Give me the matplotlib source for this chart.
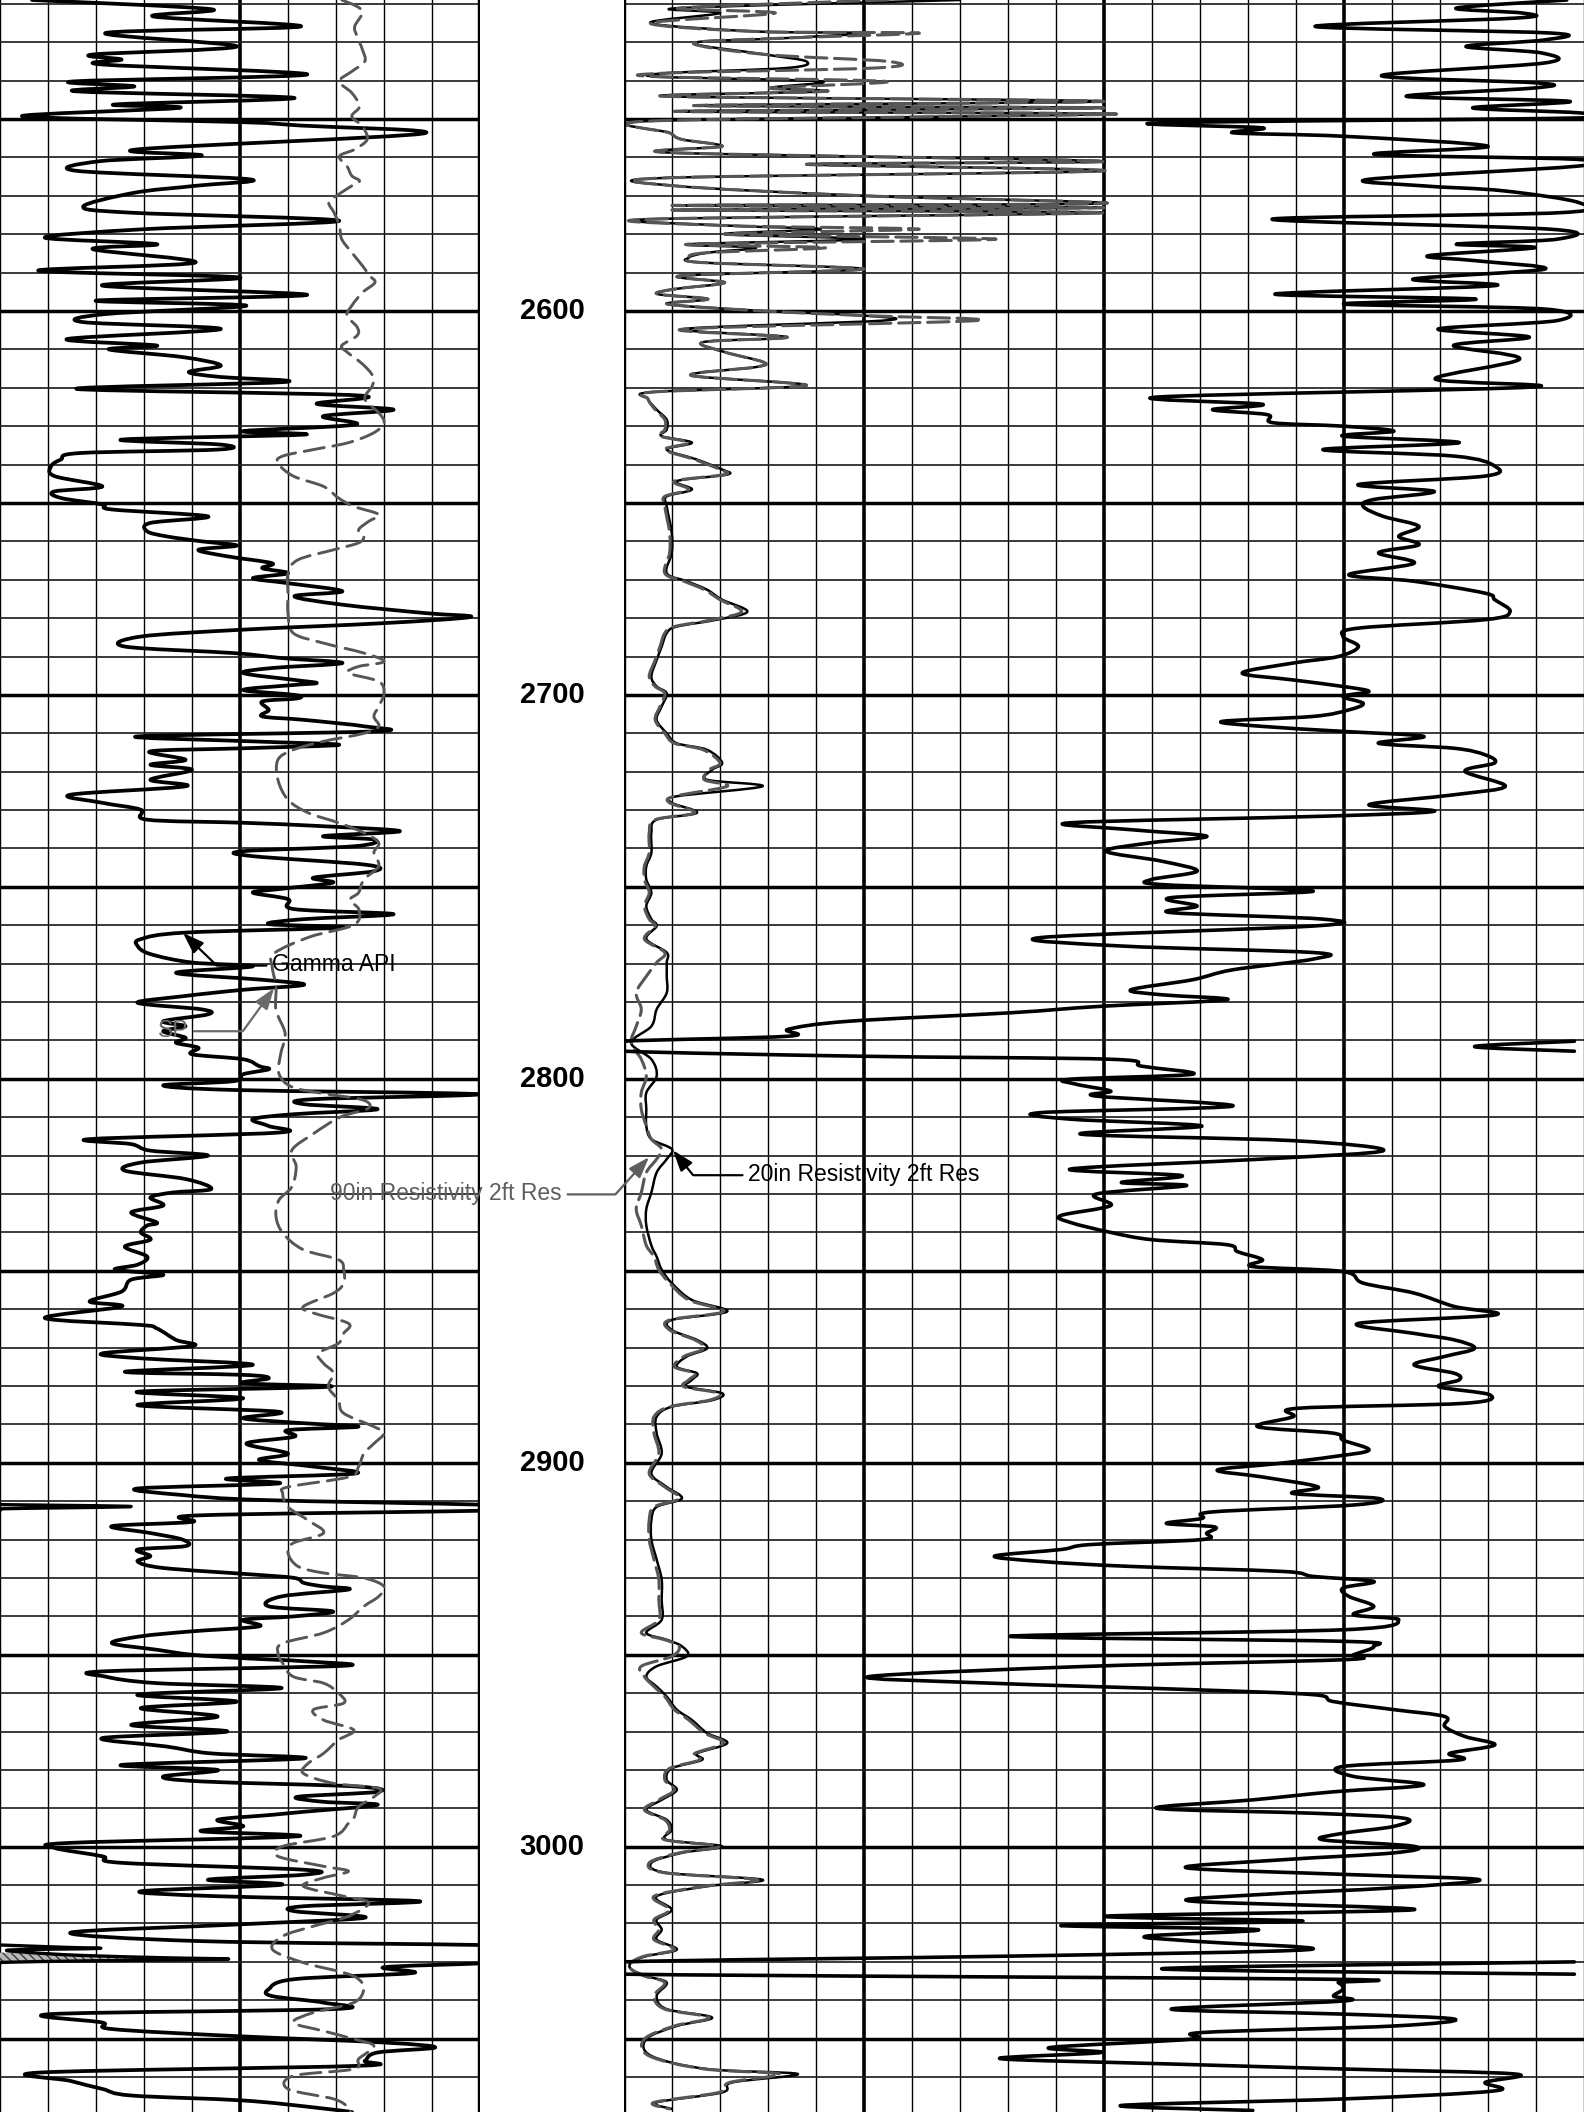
import numpy as np
import matplotlib
matplotlib.use("Agg")
import matplotlib.pyplot as plt
from matplotlib import transforms
from matplotlib.path import Path
from matplotlib.patches import PathPatch

plt.rcParams['font.family'] = ['Liberation Sans', 'DejaVu Sans']

TOP, BASE = 2519.0, 3069.1
GRAY = '#565656'

gamma_depth = [2519.0, 2521.4, 2523.3, 2525.9, 2527.6, 2531.1, 2533.2, 2534.5, 2535.8, 2538.4, 2540.2, 2541.5, 2542.8,
               2544.5, 2546.2, 2547.1, 2549.3, 2550.8, 2551.7, 2553.8, 2557.9, 2559.5, 2561.0, 2563.5, 2565.7, 2567.4,
               2569.2, 2572.8, 2574.4, 2576.5, 2578.7, 2580.9, 2582.6, 2583.9, 2587.4, 2589.5, 2591.3, 2593.4, 2595.8,
               2597.3, 2598.6, 2600.8, 2602.9, 2604.7, 2607.3, 2609.0, 2610.0, 2612.0, 2614.2, 2615.9, 2617.2, 2618.5,
               2620.3, 2622.0, 2624.2, 2625.7, 2627.4, 2629.6, 2631.3, 2632.2, 2633.5, 2634.8, 2636.1, 2637.0, 2638.7,
               2640.4, 2643.0, 2645.7, 2647.0, 2648.7, 2650.4, 2651.7, 2653.5, 2655.2, 2657.4, 2658.7, 2660.0, 2661.1,
               2662.2, 2663.9, 2665.7, 2667.0, 2668.3, 2669.6, 2670.9, 2673.0, 2674.3, 2676.5, 2678.7, 2679.7, 2681.3,
               2683.0, 2684.8, 2687.4, 2689.1, 2690.4, 2691.7, 2693.0, 2694.3, 2696.1, 2696.9, 2697.4, 2698.7, 2700.0,
               2700.9, 2701.7, 2703.9, 2705.6, 2706.5, 2708.2, 2709.5, 2710.8, 2712.1, 2713.0, 2713.9, 2714.7, 2716.9,
               2718.2, 2719.5, 2722.1, 2723.8, 2726.0, 2728.1, 2729.9, 2732.5, 2733.3, 2734.2, 2735.5, 2736.8, 2737.7,
               2739.4, 2740.7, 2742.0, 2744.2, 2745.9, 2747.6, 2748.9, 2750.5, 2751.5, 2753.2, 2755.8, 2757.1, 2758.4,
               2759.7, 2760.6, 2761.9, 2763.6, 2765.4, 2767.5, 2769.7, 2770.7, 2772.4, 2774.2, 2775.5, 2776.8, 2778.5,
               2780.2, 2781.9, 2783.2, 2785.0, 2786.3, 2787.6, 2789.3, 2790.6, 2791.9, 2793.6, 2794.9, 2796.7, 2797.5,
               2798.8, 2800.6, 2801.7, 2802.9, 2804.0, 2805.3, 2806.6, 2807.9, 2809.2, 2810.5, 2812.3, 2814.0, 2815.7,
               2817.0, 2818.7, 2820.0, 2821.8, 2823.9, 2826.1, 2828.7, 2829.6, 2830.9, 2833.0, 2834.8, 2837.4, 2838.2,
               2840.0, 2841.9, 2843.7, 2846.3, 2848.4, 2849.7, 2851.0, 2852.3, 2855.4, 2858.0, 2859.3, 2862.3, 2864.1,
               2865.0, 2868.0, 2869.6, 2871.5, 2872.8, 2874.5, 2876.3, 2877.1, 2878.0, 2879.3, 2880.2, 2881.5, 2883.2,
               2885.0, 2886.7, 2888.4, 2889.7, 2890.6, 2891.5, 2893.2, 2895.0, 2897.6, 2899.3, 2901.0, 2902.8, 2904.1,
               2905.4, 2906.7, 2908.4, 2909.7, 2910.9, 2911.4, 2912.0, 2912.5, 2913.7, 2915.4, 2916.5, 2918.3, 2920.0,
               2921.7, 2922.6, 2924.3, 2925.7, 2927.4, 2929.1, 2930.0, 2931.3, 2932.2, 2933.0, 2934.8, 2937.4, 2938.7,
               2940.0, 2940.9, 2942.6, 2943.9, 2945.2, 2947.0, 2948.7, 2950.0, 2950.9, 2951.7, 2952.9, 2954.3, 2955.7,
               2957.4, 2958.7, 2960.4, 2962.2, 2963.9, 2966.1, 2968.3, 2970.0, 2971.7, 2973.9, 2975.7, 2977.0, 2978.7,
               2980.0, 2981.7, 2983.0, 2984.3, 2985.7, 2987.0, 2988.3, 2989.1, 2990.9, 2991.7, 2993.0, 2994.7, 2996.0,
               2997.3, 2999.0, 3000.3, 3002.5, 3004.2, 3006.0, 3007.3, 3008.6, 3009.9, 3011.6, 3012.9, 3014.2, 3015.5,
               3016.8, 3018.5, 3020.3, 3022.4, 3024.6, 3025.6, 3026.2, 3026.5, 3026.9, 3027.6, 3028.3, 3028.9, 3029.3,
               3029.7, 3030.1, 3030.4, 3031.4, 3032.9, 3034.5, 3037.1, 3038.9, 3040.6, 3042.3, 3043.6, 3045.8, 3047.5,
               3049.3, 3051.0, 3052.3, 3053.6, 3055.8, 3057.1, 3058.8, 3061.0, 3063.1, 3064.8, 3066.1, 3067.9, 3069.1]
gamma_api = [10, 66, 48, 94, 33, 74, 29, 38, 32, 96, 23, 42, 24,
             92, 36, 56, 7, 75, 94, 132, 43, 63, 31, 24, 78, 61,
             42, 26, 41, 106, 45, 14, 49, 29, 61, 12, 75, 32, 96,
             30, 77, 33, 26, 69, 21, 49, 34, 57, 69, 59, 69, 89,
             24, 112, 99, 123, 101, 111, 76, 95, 38, 69, 68, 25, 19,
             16, 17, 32, 17, 19, 32, 35, 65, 47, 46, 52, 63, 74,
             62, 71, 85, 82, 90, 79, 90, 107, 92, 107, 133, 147, 120,
             76, 44, 39, 73, 88, 107, 85, 76, 92, 99, 92, 76, 92,
             93, 82, 84, 82, 95, 114, 117, 43, 79, 106, 76, 47, 58,
             47, 60, 47, 58, 22, 32, 44, 46, 76, 101, 125, 101, 117,
             111, 76, 79, 114, 117, 98, 104, 88, 79, 90, 92, 123, 95,
             84, 107, 58, 44, 43, 47, 60, 79, 55, 82, 95, 76, 57,
             43, 63, 65, 51, 58, 51, 58, 55, 62, 60, 76, 81, 84,
             76, 73, 51, 73, 149, 98, 95, 118, 92, 79, 84, 87, 28,
             41, 47, 65, 44, 39, 58, 66, 54, 47, 51, 41, 49, 46,
             44, 47, 39, 46, 43, 36, 51, 41, 38, 28, 38, 14, 44,
             49, 55, 60, 32, 44, 79, 39, 76, 84, 76, 103, 43, 76,
             43, 87, 76, 95, 112, 90, 92, 77, 90, 81, 98, 111, 71,
             87, 43, 57, 82, 150, 191, 150, 150, 62, 60, 35, 47, 57,
             58, 43, 47, 43, 51, 79, 92, 95, 101, 109, 88, 84, 104,
             92, 76, 81, 60, 44, 35, 49, 60, 76, 95, 107, 33, 33,
             49, 88, 43, 74, 44, 68, 41, 71, 32, 52, 66, 95, 38,
             68, 51, 63, 111, 118, 93, 101, 118, 95, 85, 68, 76, 63,
             93, 22, 17, 32, 38, 95, 95, 65, 88, 44, 68, 131, 95,
             92, 114, 73, 22, 63, 150, 170, 181, 153, 160, 175, 200, 221,
             180, 152, 150, 120, 129, 92, 84, 85, 101, 104, 16, 32, 35,
             73, 120, 136, 118, 114, 111, 13, 22, 32, 41, 76, 98, 110]

sp_depth = [2519.0, 2520.7, 2522.4, 2525.9, 2528.5, 2531.9, 2535.0, 2537.6, 2540.2, 2543.2, 2546.7, 2549.3, 2551.9,
            2555.3, 2557.9, 2559.7, 2562.3, 2564.8, 2566.1, 2567.4, 2570.0, 2571.8, 2574.4, 2577.8, 2581.3, 2584.8,
            2588.2, 2590.8, 2592.6, 2595.2, 2598.6, 2601.2, 2604.2, 2606.4, 2609.0, 2610.7, 2613.8, 2616.8, 2619.4,
            2622.9, 2626.5, 2629.1, 2631.7, 2634.3, 2636.1, 2637.8, 2639.6, 2643.0, 2645.7, 2648.7, 2650.9, 2653.0,
            2654.8, 2657.0, 2658.7, 2660.4, 2662.2, 2664.8, 2668.3, 2673.5, 2678.7, 2683.9, 2686.5, 2689.1, 2691.3,
            2692.6, 2694.3, 2696.5, 2699.6, 2703.0, 2705.6, 2708.2, 2710.0, 2712.1, 2714.3, 2716.9, 2722.1, 2727.3,
            2730.7, 2733.3, 2735.9, 2738.5, 2741.1, 2744.6, 2748.1, 2751.5, 2753.4, 2756.0, 2759.9, 2763.0, 2767.3,
            2770.8, 2776.0, 2782.1, 2788.2, 2793.4, 2798.6, 2802.1, 2803.8, 2805.5, 2807.7, 2809.9, 2814.2, 2818.6,
            2822.9, 2828.1, 2831.6, 2835.9, 2840.3, 2844.5, 2847.1, 2849.7, 2853.2, 2855.8, 2859.3, 2861.0, 2863.7,
            2866.3, 2868.9, 2871.5, 2874.1, 2876.7, 2880.2, 2883.7, 2887.1, 2890.6, 2892.3, 2895.0, 2897.6, 2901.0,
            2903.7, 2906.3, 2908.0, 2911.5, 2915.0, 2918.3, 2920.9, 2923.5, 2927.0, 2928.7, 2930.0, 2932.2, 2934.8,
            2937.4, 2940.9, 2944.3, 2947.0, 2949.6, 2952.2, 2955.7, 2957.4, 2960.0, 2962.6, 2964.3, 2967.0, 2969.6,
            2972.2, 2975.7, 2978.3, 2980.9, 2983.5, 2984.8, 2987.0, 2989.6, 2992.6, 2993.9, 2997.3, 2999.9, 3002.5,
            3005.1, 3006.4, 3008.1, 3010.3, 3012.9, 3014.6, 3018.1, 3020.7, 3023.3, 3026.8, 3030.2, 3032.8, 3034.5,
            3037.1, 3040.6, 3043.2, 3045.8, 3048.0, 3050.1, 3051.9, 3055.3, 3057.9, 3059.7, 3063.1, 3065.7, 3067.9,
            3069.1]
sp_mv = [-28.8, -25.6, -24.5, -26.1, -25.6, -24.5, -24.0, -26.7, -29.3, -26.7, -25.1, -26.7, -24.5,
         -23.5, -26.1, -29.3, -27.7, -26.7, -25.1, -26.7, -29.9, -31.5, -30.4, -29.3, -28.8, -26.7,
         -24.5, -23.0, -21.9, -24.5, -26.7, -27.7, -25.6, -25.6, -28.8, -27.7, -24.5, -22.4, -22.4,
         -24.0, -21.1, -20.0, -22.1, -27.4, -34.7, -41.1, -42.1, -38.9, -32.6, -29.5, -26.3, -21.1,
         -23.2, -25.3, -24.2, -25.3, -30.5, -37.9, -40.0, -40.0, -40.0, -38.9, -32.6, -24.2, -20.0,
         -25.3, -27.4, -21.1, -20.0, -21.1, -22.1, -21.1, -24.2, -32.6, -38.9, -42.1, -42.1, -40.0,
         -35.8, -29.5, -24.2, -21.1, -22.1, -21.1, -24.2, -25.3, -27.1, -25.2, -26.3, -35.4, -42.9,
         -43.3, -42.5, -42.5, -40.6, -41.5, -41.9, -39.2, -32.7, -24.4, -23.3, -29.0, -34.6, -39.2,
         -38.3, -39.2, -41.9, -42.5, -41.0, -36.8, -29.5, -28.4, -28.4, -30.5, -36.8, -34.7, -27.4,
         -28.4, -29.5, -33.7, -32.6, -30.5, -31.6, -29.5, -28.4, -22.1, -20.0, -22.1, -24.2, -25.3,
         -27.4, -40.0, -41.1, -40.0, -35.8, -32.6, -38.9, -40.0, -37.9, -32.6, -24.2, -20.0, -21.1,
         -24.2, -27.4, -32.6, -41.1, -42.1, -41.1, -38.9, -32.6, -29.5, -28.4, -34.7, -32.6, -26.3,
         -29.5, -32.6, -35.8, -36.8, -30.5, -21.1, -22.1, -25.3, -26.3, -27.4, -30.5, -41.1, -42.1,
         -32.6, -27.4, -32.6, -36.8, -28.4, -23.2, -27.4, -34.7, -41.1, -43.2, -36.8, -28.4, -25.3,
         -24.2, -26.3, -34.7, -38.9, -32.6, -26.3, -22.1, -25.3, -26.3, -38.9, -40.0, -30.5, -27.4,
         -27.0]

res_depth = [2519.0, 2521.1, 2522.4, 2525.0, 2527.2, 2527.6, 2528.9, 2530.2, 2533.2, 2535.0, 2536.7, 2538.0, 2539.0,
             2540.2, 2541.9, 2542.8, 2544.1, 2545.4, 2546.5, 2547.1, 2548.0, 2548.6, 2549.3, 2550.6, 2553.6, 2555.3,
             2557.1, 2558.8, 2561.0, 2561.8, 2563.5, 2565.3, 2567.4, 2570.0, 2572.0, 2572.5, 2573.1, 2573.7, 2574.4,
             2576.1, 2577.8, 2578.7, 2580.0, 2581.3, 2582.6, 2583.5, 2584.8, 2586.1, 2587.4, 2589.1, 2590.8, 2592.6,
             2594.3, 2595.6, 2596.9, 2598.2, 2599.9, 2601.2, 2602.5, 2604.7, 2606.8, 2608.1, 2610.7, 2613.3, 2614.6,
             2616.8, 2619.4, 2621.1, 2622.9, 2625.7, 2628.3, 2630.9, 2632.6, 2634.3, 2636.1, 2638.7, 2641.3, 2642.6,
             2644.3, 2646.5, 2648.3, 2650.9, 2657.8, 2663.0, 2668.3, 2670.4, 2672.6, 2675.2, 2678.3, 2680.4, 2682.2,
             2683.9, 2687.4, 2690.9, 2695.2, 2697.8, 2699.6, 2703.0, 2706.5, 2710.0, 2712.6, 2714.3, 2717.7, 2719.5,
             2722.1, 2723.8, 2726.4, 2728.1, 2730.7, 2732.5, 2735.9, 2741.1, 2744.6, 2748.1, 2751.5, 2755.0, 2758.4,
             2760.2, 2763.6, 2767.1, 2769.7, 2773.3, 2777.6, 2781.9, 2786.3, 2790.6, 2794.9, 2799.3, 2803.6, 2807.9,
             2812.3, 2815.7, 2818.3, 2820.9, 2824.4, 2829.6, 2833.9, 2838.2, 2843.4, 2846.3, 2849.7, 2853.2, 2857.6,
             2860.6, 2862.8, 2865.4, 2868.0, 2870.2, 2872.3, 2875.0, 2876.7, 2878.4, 2880.2, 2881.9, 2883.7, 2885.4,
             2888.0, 2892.3, 2897.6, 2902.8, 2906.3, 2909.3, 2911.5, 2915.0, 2920.0, 2925.2, 2930.4, 2935.7, 2940.9,
             2944.3, 2946.1, 2947.8, 2950.4, 2953.0, 2955.7, 2958.3, 2960.9, 2964.3, 2967.0, 2970.4, 2973.0, 2975.7,
             2977.4, 2979.6, 2982.6, 2985.2, 2987.8, 2990.4, 2993.0, 2995.6, 2998.2, 2999.9, 3001.6, 3004.2, 3006.8,
             3008.6, 3010.3, 3012.9, 3016.4, 3019.0, 3021.6, 3024.2, 3026.8, 3028.5, 3030.2, 3031.9, 3033.7, 3035.4,
             3038.9, 3042.3, 3044.5, 3046.7, 3050.1, 3054.5, 3057.9, 3059.2, 3061.4, 3064.0, 3066.6, 3068.3]
res_20in = [14.0, 2.3, 4.0, 1.1, 5.5, 10.0, 6.8, 2.9, 5.9, 7.6, 6.8, 1.9, 1.5,
            8.2, 6.1, 8.4, 1.8, 20.0, 2.9, 20.0, 2.1, 20.0, 14.4, 0.8, 1.9, 2.4,
            4.1, 2.1, 20.0, 7.6, 20.0, 1.9, 2.1, 10.0, 20.0, 2.0, 20.0, 2.0, 20.0,
            1.0, 4.5, 8.2, 4.2, 10.0, 2.7, 5.5, 3.5, 2.7, 3.3, 10.0, 2.4, 4.2,
            2.1, 1.4, 3.5, 1.8, 5.5, 10.0, 10.8, 2.5, 6.8, 3.3, 4.2, 5.8, 5.5,
            2.8, 7.6, 1.2, 1.0, 1.36, 1.78, 1.78, 1.57, 2.83, 1.78, 3.04, 4.09, 4.30,
            2.2, 2.83, 1.78, 1.78, 1.99, 1.99, 1.78, 2.62, 3.46, 4.09, 5.14, 3.88, 2.2,
            1.78, 1.57, 1.36, 1.14, 1.36, 1.78, 1.57, 1.36, 1.78, 2.2, 3.46, 4.09, 3.67,
            3.46, 5.77, 2.2, 1.99, 3.04, 1.36, 1.14, 1.14, 0.93, 0.93, 1.14, 0.93, 1.14,
            1.36, 0.93, 1.78, 1.78, 1.78, 1.78, 1.36, 1.14, 0.30, 1.14, 1.36, 0.93, 0.93,
            0.93, 1.14, 1.99, 1.78, 1.36, 1.14, 0.93, 0.93, 1.14, 1.36, 1.57, 1.99, 2.83,
            4.30, 1.99, 1.99, 3.04, 3.46, 2.62, 2.2, 3.04, 2.83, 2.62, 4.09, 3.67, 1.99,
            1.36, 1.36, 1.57, 1.14, 1.78, 2.41, 1.36, 1.14, 1.14, 1.36, 1.57, 1.57, 1.57,
            0.93, 1.78, 2.41, 2.62, 1.36, 0.93, 1.36, 1.78, 2.2, 2.83, 3.46, 4.30, 3.04,
            3.25, 1.99, 1.78, 2.2, 1.57, 0.93, 1.78, 1.99, 1.78, 4.09, 2.41, 1.14, 1.78,
            5.77, 3.46, 1.36, 1.99, 1.36, 1.57, 1.36, 2.2, 0.93, 0.30, 0.30, 0.93, 1.78,
            1.36, 1.78, 3.67, 2.2, 0.93, 1.14, 3.46, 7.24, 4.51, 4.09, 1.36, 1.99]
res_90in = [11.0, 2.3, 6.3, 1.1, 5.5, 12.3, 6.8, 2.9, 5.9, 11.0, 10.5, 1.9, 1.5,
            10.9, 6.1, 8.4, 1.8, 20.0, 2.9, 20.0, 2.1, 20.0, 14.4, 0.8, 1.9, 2.4,
            4.1, 2.1, 20.0, 7.6, 20.0, 1.9, 2.1, 10.0, 20.0, 2.0, 20.0, 2.0, 20.0,
            1.0, 4.5, 12.3, 4.2, 15.5, 2.7, 8.4, 3.5, 2.7, 3.3, 10.0, 2.4, 4.2,
            2.1, 1.4, 3.5, 1.8, 5.5, 10.0, 14.7, 2.5, 6.8, 3.3, 4.2, 5.8, 5.5,
            2.8, 7.6, 1.2, 1.0, 1.30, 1.70, 1.70, 1.50, 2.70, 1.70, 2.95, 4.0, 4.2,
            2.1, 2.7, 1.70, 1.70, 1.90, 1.90, 1.70, 2.5, 3.35, 4.0, 4.9, 3.7, 2.1,
            1.70, 1.50, 1.30, 1.05, 1.30, 1.70, 1.50, 1.30, 1.70, 2.1, 3.3, 4.0, 3.55,
            3.35, 4.30, 2.1, 1.90, 2.95, 1.30, 1.05, 1.05, 0.85, 0.85, 1.05, 0.85, 1.05,
            1.30, 0.85, 1.70, 1.36, 0.93, 0.51, 0.72, 0.51, 0.30, 0.72, 0.93, 0.72, 0.72,
            0.93, 1.14, 1.57, 1.36, 0.93, 0.72, 0.51, 0.72, 0.93, 1.25, 1.45, 1.90, 2.7,
            4.15, 1.90, 1.90, 2.95, 3.35, 2.5, 2.1, 2.95, 2.7, 2.5, 3.95, 3.55, 1.90,
            1.25, 1.25, 1.45, 1.05, 1.70, 2.3, 1.25, 1.05, 1.05, 1.25, 1.45, 1.45, 1.45,
            0.72, 1.70, 2.3, 2.0, 0.72, 0.85, 1.25, 1.70, 2.1, 2.7, 3.35, 4.15, 2.95,
            3.15, 1.90, 1.70, 2.1, 1.45, 0.85, 1.70, 1.90, 1.70, 3.95, 2.3, 1.05, 1.70,
            5.56, 3.35, 1.25, 1.90, 1.25, 1.45, 1.25, 2.1, 0.85, 0.30, 0.30, 0.85, 1.70,
            1.25, 1.70, 3.55, 2.1, 0.85, 1.05, 3.35, 6.5, 4.4, 3.95, 1.25, 1.90]

por_depth = [2519.0, 2521.1, 2522.4, 2523.7, 2525.9, 2527.6, 2529.4, 2531.1, 2532.8, 2535.4, 2538.7, 2540.6, 2541.9,
             2544.1, 2545.4, 2547.1, 2548.4, 2549.7, 2551.0, 2552.3, 2553.6, 2554.5, 2557.1, 2559.2, 2560.5, 2562.3,
             2565.7, 2567.4, 2568.7, 2571.8, 2574.4, 2576.1, 2578.7, 2581.3, 2582.6, 2583.5, 2585.6, 2586.9, 2589.1,
             2591.7, 2593.4, 2595.6, 2596.9, 2598.2, 2599.5, 2602.5, 2604.7, 2606.8, 2609.0, 2612.5, 2617.7, 2619.8,
             2622.4, 2624.3, 2625.7, 2627.0, 2629.1, 2630.0, 2631.3, 2632.6, 2634.3, 2636.1, 2637.8, 2640.4, 2643.0,
             2645.2, 2647.0, 2649.1, 2650.9, 2653.5, 2656.1, 2658.7, 2660.9, 2663.0, 2665.7, 2668.7, 2670.4, 2673.5,
             2675.2, 2678.3, 2680.4, 2682.6, 2684.8, 2687.4, 2690.0, 2691.7, 2694.3, 2696.1, 2697.8, 2699.1, 2700.4,
             2702.2, 2703.9, 2705.6, 2706.9, 2708.2, 2709.5, 2710.8, 2712.6, 2713.9, 2715.6, 2717.7, 2719.9, 2723.8,
             2726.0, 2728.6, 2730.3, 2731.6, 2733.3, 2735.1, 2736.8, 2738.5, 2740.7, 2743.3, 2745.9, 2748.1, 2749.4,
             2751.1, 2752.8, 2755.0, 2756.7, 2758.4, 2760.2, 2763.2, 2765.4, 2767.1, 2768.8, 2771.6, 2774.2, 2776.8,
             2778.1, 2779.4, 2781.1, 2782.8, 2785.0, 2787.1, 2788.9, 2790.2, 2791.6, 2792.8, 2794.1, 2794.9, 2796.7,
             2798.8, 2800.1, 2801.4, 2803.2, 2804.5, 2807.1, 2808.8, 2810.5, 2812.3, 2814.4, 2816.1, 2818.7, 2820.9,
             2823.5, 2825.2, 2827.0, 2827.8, 2830.0, 2833.0, 2835.6, 2837.4, 2840.0, 2841.9, 2843.2, 2845.0, 2847.1,
             2848.9, 2850.2, 2853.2, 2855.8, 2859.3, 2861.5, 2863.7, 2866.3, 2868.0, 2870.2, 2872.3, 2874.5, 2876.7,
             2878.4, 2880.2, 2882.3, 2884.5, 2885.8, 2888.0, 2890.6, 2892.3, 2894.1, 2896.7, 2898.4, 2900.2, 2901.9,
             2903.7, 2906.3, 2908.0, 2909.3, 2911.0, 2912.8, 2914.5, 2915.8, 2916.7, 2918.3, 2920.0, 2921.3, 2922.6,
             2924.3, 2925.7, 2927.0, 2928.3, 2929.6, 2930.9, 2932.6, 2934.8, 2937.4, 2939.6, 2940.9, 2943.5, 2945.2,
             2946.5, 2947.8, 2950.0, 2951.3, 2953.0, 2955.7, 2957.4, 2959.1, 2960.4, 2962.2, 2964.3, 2966.1, 2968.7,
             2971.3, 2973.5, 2975.7, 2977.4, 2979.1, 2981.7, 2983.9, 2985.7, 2987.8, 2990.0, 2991.3, 2992.6, 2994.7,
             2996.5, 2998.2, 2999.9, 3001.6, 3003.4, 3005.5, 3007.3, 3008.6, 3010.7, 3012.5, 3014.2, 3016.4, 3018.1,
             3019.4, 3020.5, 3021.6, 3023.3, 3024.6, 3026.8, 3028.5, 3030.0, 3031.8, 3033.2, 3034.5, 3035.4, 3037.1,
             3038.9, 3040.2, 3042.3, 3043.6, 3044.9, 3046.7, 3048.4, 3050.1, 3052.3, 3053.6, 3055.2, 3056.6, 3057.9,
             3059.2, 3061.4, 3063.6, 3065.7, 3067.4, 3068.7]
por_val = [98.2, 86.7, 93.6, 93.0, 72.0, 96.5, 95.9, 87.7, 95.6, 95.9, 78.9, 95.2, 94.9,
           81.5, 98.5, 88.4, 99.5, 99.8, 55.7, 66.5, 63.5, 75.0, 90.0, 78.2, 99.2, 99.2,
           77.6, 83.2, 91.6, 99.5, 97.5, 67.5, 96.5, 97.2, 86.7, 94.9, 83.8, 88.7, 95.9,
           82.2, 90.7, 67.8, 88.7, 75.0, 95.9, 97.2, 84.8, 94.3, 86.4, 93.3, 84.5, 94.6,
           55.7, 66.5, 61.3, 67.0, 67.6, 74.9, 80.2, 74.9, 87.0, 72.8, 86.5, 90.7, 89.7,
           76.5, 84.4, 78.1, 77.0, 79.1, 82.8, 80.7, 82.8, 78.6, 82.3, 75.5, 82.3, 89.7,
           90.7, 92.3, 89.7, 76.5, 74.9, 76.5, 74.4, 69.7, 64.4, 69.7, 74.9, 77.6, 74.9,
           77.0, 75.5, 71.8, 62.3, 66.5, 74.9, 83.3, 78.6, 86.5, 89.7, 90.7, 87.6, 91.8,
           86.5, 77.6, 84.4, 72.8, 46.5, 52.8, 60.7, 54.9, 50.2, 56.0, 59.7, 54.9, 56.0,
           71.8, 57.0, 59.7, 57.0, 72.8, 71.8, 43.4, 51.8, 71.8, 71.8, 63.4, 59.2, 52.8,
           56.0, 62.8, 49.7, 40.2, 23.4, 17.1, 17.1, -1.0, -11.4, -1.0, 24.4, 50.7, 53.9,
           59.2, 46.5, 47.1, 50.7, 49.2, 63.4, 43.4, 46.5, 60.2, 47.6, 69.7, 79.1, 66.5,
           46.5, 58.1, 51.8, 58.6, 49.2, 50.7, 45.5, 46.5, 50.7, 55.0, 62.8, 63.9, 66.5,
           65.5, 74.9, 77.0, 82.3, 86.5, 90.7, 76.5, 82.3, 86.5, 88.6, 85.5, 82.3, 86.5,
           87.0, 84.9, 90.2, 87.6, 70.2, 69.7, 66.0, 73.9, 74.9, 77.6, 73.9, 68.1, 61.8,
           66.5, 72.3, 69.7, 78.6, 76.0, 61.3, 60.2, 56.5, 61.5, 60.7, 60.2, 48.6, 45.5,
           38.6, 43.4, 52.8, 68.6, 71.8, 78.1, 74.9, 75.5, 78.1, 76.0, 80.7, 74.9, 40.2,
           74.9, 78.1, 76.0, 74.9, 48.6, 25.5, 38.1, 59.2, 71.8, 73.9, 80.2, 85.5, 85.5,
           87.6, 90.7, 86.0, 87.0, 74.9, 76.0, 83.3, 73.9, 65.5, 55.5, 72.0, 81.3, 80.2,
           74.9, 72.8, 82.3, 80.2, 68.6, 58.6, 76.0, 89.1, 80.2, 66.0, 59.2, 82.3, 50.2,
           70.7, 45.5, 66.0, 54.4, 59.2, 71.3, 40.2, -1.0, -44.0, -1.0, 72.8, 74.4, 74.9,
           73.9, 74.9, 57.0, 74.9, 86.5, 80.2, 60.2, 59.2, 44.4, 49.7, 39.2, 57.0, 74.9,
           92.8, 89.7, 90.7, 74.9, 51.8, 65.5]

depth_labels = [2600, 2700, 2800, 2900, 3000]


def smooth_line(ax, x, y, **kw):
    # draws the points as one smooth (Catmull-Rom) path, split at NaN gaps
    x = np.asarray(x, float)
    y = np.asarray(y, float)
    idx = np.flatnonzero(~np.isnan(x))
    if len(idx) == 0:
        return
    for run in np.split(idx, np.flatnonzero(np.diff(idx) > 1) + 1):
        if len(run) < 2:
            continue
        P = np.column_stack([x[run], y[run]])
        n = len(P)
        verts, codes = [P[0]], [Path.MOVETO]
        for i in range(n - 1):
            p0 = P[i - 1] if i > 0 else P[i]
            p3 = P[i + 2] if i + 2 < n else P[i + 1]
            verts += [P[i] + (P[i + 1] - p0) / 6, P[i + 1] - (p3 - P[i]) / 6, P[i + 1]]
            codes += [Path.CURVE4] * 3
        ax.add_patch(PathPatch(Path(verts, codes), fill=False, capstyle='round', joinstyle='round', **kw))


# ---- figure ----
W, H = 1584, 2112
fig = plt.figure(figsize=(W / 100, H / 100), dpi=100)
ax_g = fig.add_axes([0, 0, 480 / W, 1])
ax_d = fig.add_axes([480 / W, 0, 144 / W, 1])
ax_r = fig.add_axes([624 / W, 0, 960 / W, 1])

for ax in (ax_g, ax_d, ax_r):
    ax.set_ylim(BASE, TOP)
    ax.set_xticks([])
    ax.set_yticks([])
    for s in ax.spines.values():
        s.set_visible(False)


def grid(ax, x0, x1, ndiv, heavy):
    step = (x1 - x0) / ndiv
    for i in range(ndiv + 1):
        lw = 2.6 if i in heavy else 1.0
        ax.axvline(x0 + i * step, color='black', lw=lw, zorder=1)
    for d in range(2520, 3070, 10):
        ax.axhline(d, color='black' if d % 50 == 0 else '#222222',
                   lw=2.5 if d % 50 == 0 else 1.25, zorder=1)


def twin(ax, xlim):
    t = ax.twiny()
    t.set_xlim(*xlim)
    t.set_ylim(BASE, TOP)
    t.set_xticks([])
    for s in t.spines.values():
        s.set_visible(False)
    return t


# track 1: gamma + SP
ax_g.set_xlim(0, 150)
grid(ax_g, 0, 150, 10, (5,))
ax_g.axvline(150, color='black', lw=3.2, zorder=4)

gd = np.array(gamma_depth)
g = np.array(gamma_api, dtype=float)
g_back = np.where(g >= 150, g - 150, np.nan)
ax_g.fill_betweenx(gd, 0, np.nan_to_num(g_back), where=(gd > 3027) & ~np.isnan(g_back),
                   facecolor='#b8b8b8', edgecolor='#3a3a3a', hatch='\\\\\\\\', lw=0, zorder=2)
smooth_line(ax_g, np.clip(g, 0, 150), gd, color='black', lw=2.7, zorder=3)
smooth_line(ax_g, g_back, gd, color='black', lw=2.4, zorder=3)

ax_sp = twin(ax_g, (-100, 0))
smooth_line(ax_sp, sp_mv, sp_depth, color=GRAY, lw=2.1, linestyle=(0, (7, 3)), zorder=3)

# depth track
for d in depth_labels:
    ax_d.text(0.5, d, str(d), transform=transforms.blended_transform_factory(ax_d.transAxes, ax_d.transData),
              ha='center', va='center', fontsize=21, fontweight='bold')

# track 2: resistivity + porosity-type curve
ax_r.set_xlim(0, 40)
grid(ax_r, 0, 40, 20, (0, 5, 10, 15))
ax_r.axvline(0, color='black', lw=3.2, zorder=4)
smooth_line(ax_r, np.minimum(res_20in, 20), res_depth, color='black', lw=1.8, zorder=3)
smooth_line(ax_r, np.minimum(res_90in, 20), res_depth, color=GRAY, lw=2.2, linestyle=(0, (7, 2.5)), zorder=3)

ax_n = twin(ax_r, (0, 100))
n = np.array(por_val)
smooth_line(ax_n, np.clip(n, 0, 100), por_depth, color='black', lw=2.6, zorder=3)
smooth_line(ax_n, np.where(n <= 0, n + 100, np.nan), por_depth, color='black', lw=2.6, zorder=3)


# curve labels
def label(ax, text, xy, xytext, color, ha, side, angleB):
    ax.annotate(text, xy=xy, xytext=xytext, ha=ha, va='center', fontsize=16.5, color=color,
                annotation_clip=False, zorder=6,
                arrowprops=dict(arrowstyle='-|>,head_length=0.8,head_width=0.28', color=color, lw=1.6,
                                mutation_scale=16, shrinkA=2, shrinkB=0, relpos=(side, 0.45),
                                connectionstyle='angle,angleA=0,angleB=%d,rad=0' % angleB))


label(ax_g, 'Gamma API', (57.2, 2762.0), (85.0, 2770.2), 'black', 'left', 0, 136)
label(ax_sp, 'SP', (-42.9, 2776.4), (-67.1, 2787.3), '#6a6a6a', 'left', 1, 54)
label(ax_r, '90in Resistivity 2ft Res', (1.04, 2820.4), (-2.58, 2829.8), '#5e5e5e', 'right', 1, 48)
label(ax_r, '20in Resistivity 2ft Res', (2.04, 2818.6), (5.17, 2824.8), 'black', 'left', 0, 129)

fig.savefig('out.png', dpi=100)
